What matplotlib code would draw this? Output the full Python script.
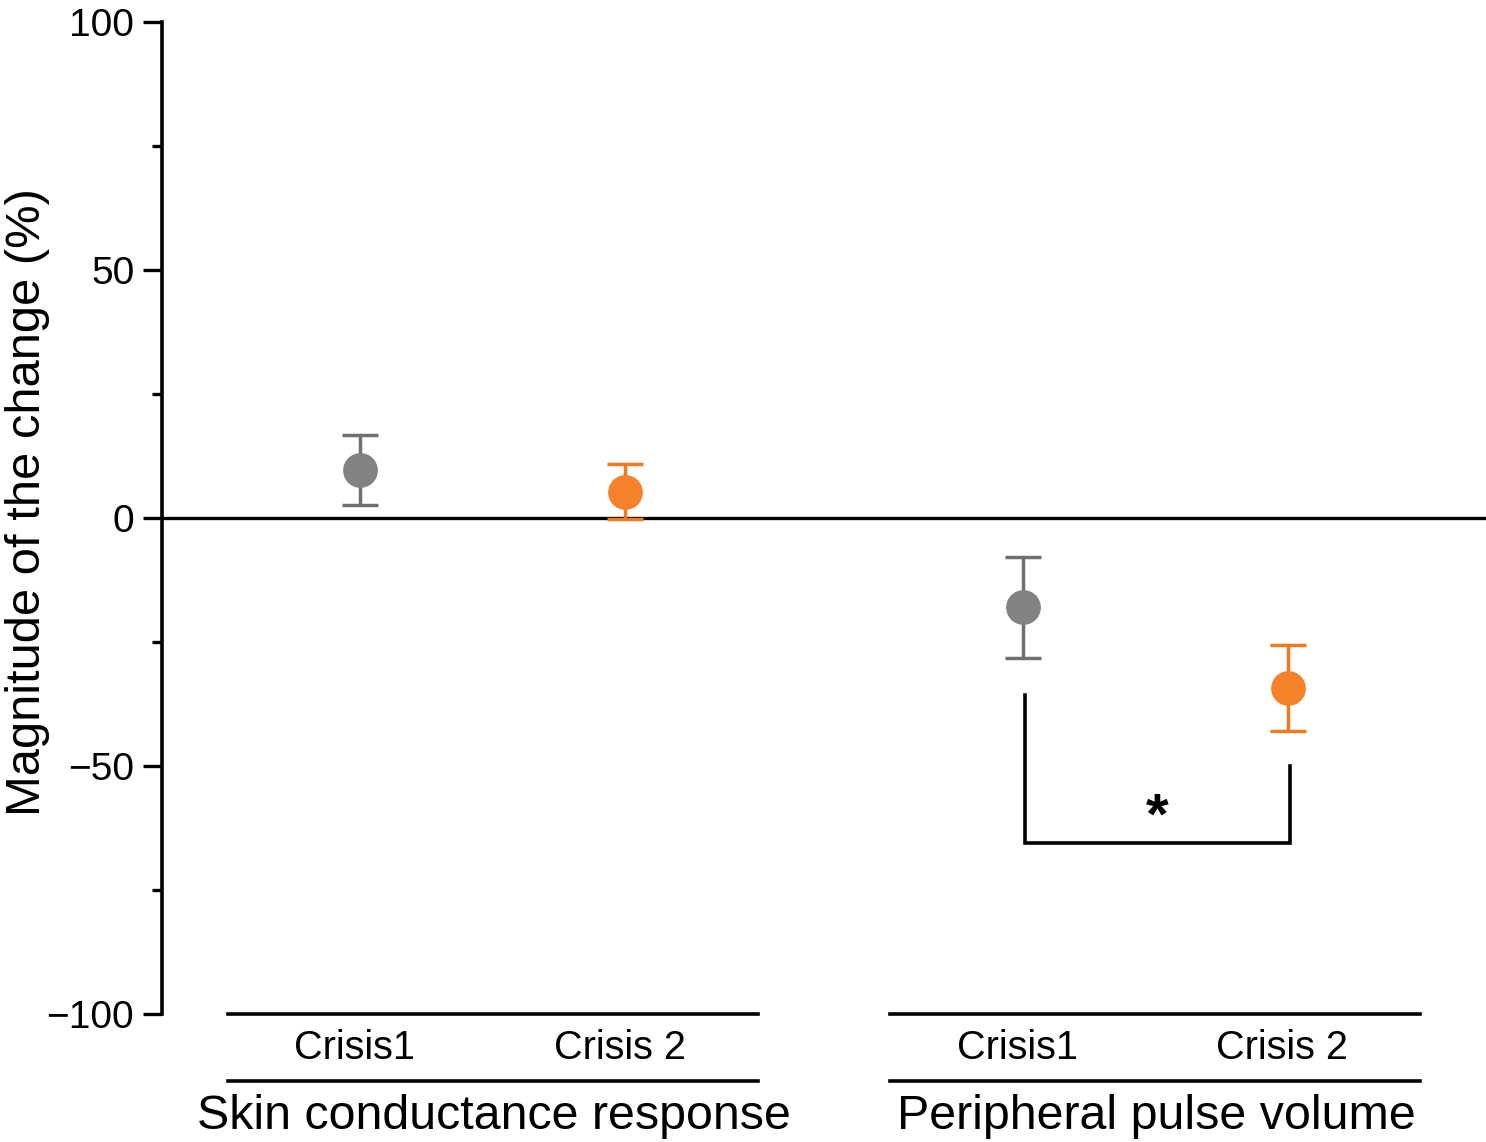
import numpy as np
import matplotlib
matplotlib.use("Agg")
import matplotlib.pyplot as plt

plt.rcParams["font.family"] = ["Liberation Sans", "DejaVu Sans"]

# data
conditions = ["Crisis1", "Crisis 2", "Crisis1", "Crisis 2"]
groups = ["Skin conductance response", "Peripheral pulse volume"]
means = [9.7, 5.2, -17.9, -34.3]
err_low = [2.6, -0.2, -28.2, -42.9]
err_high = [16.7, 10.9, -7.9, -25.6]
yticks = [-100, -50, 0, 50, 100]
minor_yticks = [-75, -25, 25, 75]

# bracket for the significant comparison (PPV crisis 1 vs crisis 2)
bracket_tops = [-35.7, -50.0]
bracket_bottom = -65.5
star_y = -60.5

# layout
x_pos = [1.0, 2.0, 3.5, 4.5]
group_spans = [(0.5, 2.5), (3.0, 5.0)]
marker_colors = ["#828282", "#F5822A", "#828282", "#F5822A"]
err_colors = ["#6F6F6F", "#F07A20", "#6F6F6F", "#F07A20"]

fig = plt.figure(figsize=(14.86, 11.42), dpi=100)
ax = fig.add_axes([162 / 1486, 1 - 1014 / 1142, 1 - 162 / 1486, 992 / 1142])

ax.axhline(0, color="black", lw=2.4, zorder=1)

for i in range(len(means)):
    lo = means[i] - err_low[i]
    hi = err_high[i] - means[i]
    ax.errorbar(
        x_pos[i], means[i], yerr=[[lo], [hi]],
        fmt="none", ecolor=err_colors[i], elinewidth=2.5,
        capsize=13, capthick=2.5, zorder=2, clip_on=False,
    )
    ax.plot(x_pos[i], means[i], "o", ms=24, color=marker_colors[i],
            mec=marker_colors[i], zorder=3, clip_on=False)

# significance bracket
bx = [x_pos[2] + 0.008, x_pos[3] + 0.008]
ax.plot([bx[0], bx[0], bx[1], bx[1]],
        [bracket_tops[0], bracket_bottom, bracket_bottom, bracket_tops[1]],
        color="black", lw=2.6, solid_joinstyle="miter", zorder=2)
ax.text((bx[0] + bx[1]) / 2, star_y, "*", ha="center", va="center",
        fontsize=42, fontweight="bold")

ax.set_xlim(0.2528, 5.249)
ax.set_ylim(-100, 100)
ax.set_yticks(yticks)
ax.set_yticks(minor_yticks, minor=True)
ax.set_yticklabels([f"{v:d}".replace("-", "\u2212") for v in yticks])
ax.set_xticks([])

for s in ["top", "right", "bottom"]:
    ax.spines[s].set_visible(False)
ax.spines["left"].set_linewidth(2.6)
ax.tick_params(axis="y", which="major", length=14, width=2.4,
               labelsize=28, pad=6)
ax.tick_params(axis="y", which="minor", length=7, width=2.4)

# category / group labels under the axis
trans = ax.get_xaxis_transform()
for g, (x0, x1) in enumerate(group_spans):
    for yy in [0.0, -0.0675]:
        ax.plot([x0, x1], [yy, yy], color="black", lw=2.6,
                transform=trans, clip_on=False)
    ax.text((x0 + x1) / 2 + 0.005, -0.103, groups[g], transform=trans,
            ha="center", va="center", fontsize=34.8)

for i, name in enumerate(conditions):
    ax.text(x_pos[i] - 0.02, -0.0345, name, transform=trans,
            ha="center", va="center", fontsize=28.5)

fig.text(28 / 1486, 1 - 502 / 1142, "Magnitude of the change (%)",
         rotation=90, ha="center", va="center", fontsize=35.2)

fig.savefig("out.png", dpi=100, facecolor="white")
